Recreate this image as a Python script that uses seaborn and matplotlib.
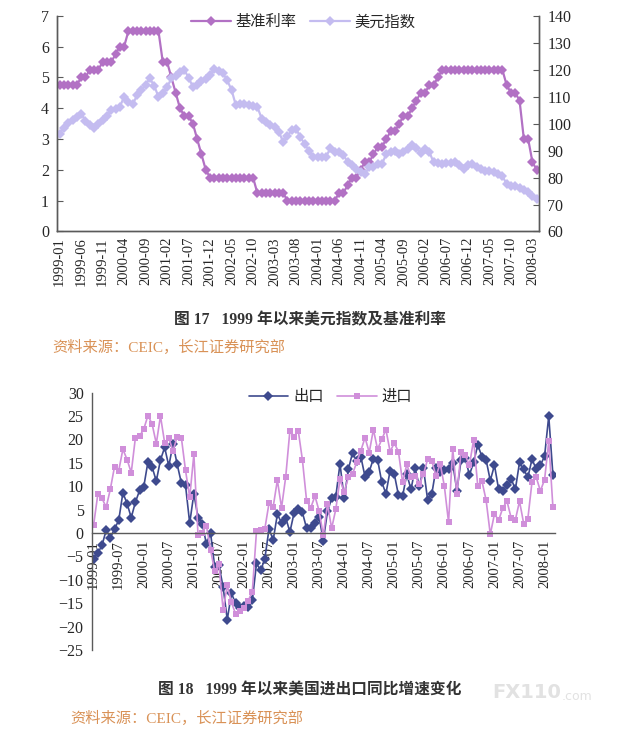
import numpy as np
import pandas as pd
import matplotlib
matplotlib.use("Agg")
import matplotlib.pyplot as plt
import seaborn as sns
from matplotlib.lines import Line2D

# ---- Fig 17: monthly, 1999-01 .. 2008-04 ----
fed_rate = [
    4.75, 4.75, 4.75, 4.75, 4.75, 5.00, 5.00, 5.25, 5.25, 5.25, 5.50, 5.50,  # 1999
    5.50, 5.75, 6.00, 6.00, 6.50, 6.50, 6.50, 6.50, 6.50, 6.50, 6.50, 6.50,  # 2000
    5.50, 5.50, 5.00, 4.50, 4.00, 3.75, 3.75, 3.50, 3.00, 2.50, 2.00, 1.75,  # 2001
    1.75, 1.75, 1.75, 1.75, 1.75, 1.75, 1.75, 1.75, 1.75, 1.75, 1.25, 1.25,  # 2002
    1.25, 1.25, 1.25, 1.25, 1.25, 1.00, 1.00, 1.00, 1.00, 1.00, 1.00, 1.00,  # 2003
    1.00, 1.00, 1.00, 1.00, 1.00, 1.25, 1.25, 1.50, 1.75, 1.75, 2.00, 2.25,  # 2004
    2.25, 2.50, 2.75, 2.75, 3.00, 3.25, 3.25, 3.50, 3.75, 3.75, 4.00, 4.25,  # 2005
    4.50, 4.50, 4.75, 4.75, 5.00, 5.25, 5.25, 5.25, 5.25, 5.25, 5.25, 5.25,  # 2006
    5.25, 5.25, 5.25, 5.25, 5.25, 5.25, 5.25, 5.25, 4.75, 4.50, 4.50, 4.25,  # 2007
    3.00, 3.00, 2.25, 2.00,                                                  # 2008
]
usd_index = [
    96.3, 98.5, 100.2, 101.5, 102.6, 103.7, 101.0, 99.5, 98.4, 99.8, 101.2, 102.9,
    105.0, 105.5, 106.2, 110.0, 108.0, 107.1, 110.5, 112.5, 114.5, 116.8, 114.0, 110.0,
    111.2, 113.5, 116.8, 117.5, 119.0, 120.0, 117.0, 113.7, 114.5, 115.8, 116.5, 118.0,
    120.3, 119.5, 118.7, 116.0, 112.5, 106.8, 107.4, 107.4, 107.0, 106.5, 106.2, 101.9,
    100.5, 99.5, 98.8, 97.0, 93.2, 95.5, 97.5, 98.1, 95.0, 92.5, 90.0, 87.5,
    87.6, 87.7, 87.8, 90.9, 89.5, 89.4, 88.5, 85.7, 84.5, 83.0, 82.0, 81.3,
    83.8, 84.0, 85.0, 85.0, 88.8, 89.5, 90.0, 88.8, 89.5, 90.6, 92.1, 91.0,
    89.2, 90.6, 89.5, 85.7, 85.3, 85.0, 85.3, 85.5, 85.7, 84.5, 83.2, 84.5,
    85.0, 84.0, 83.0, 82.5, 82.3, 82.1, 81.3, 80.6, 77.6, 77.0, 76.7, 76.3,
    75.3, 74.5, 73.0, 72.0,
]
labels_17 = ["1999-01", "1999-06", "1999-11", "2000-04", "2000-09", "2001-02",
             "2001-07", "2001-12", "2002-05", "2002-10", "2003-03", "2003-08",
             "2004-01", "2004-06", "2004-11", "2005-04", "2005-09", "2006-02",
             "2006-07", "2006-12", "2007-05", "2007-10", "2008-03"]

# ---- Fig 18: monthly yoy %, 1999-01 .. 2008-03 ----
exports = [
    -5.6, -4.3, -2.6, 0.6, -1.0, 0.9, 2.7, 8.6, 6.3, 3.3, 6.6, 9.1,
    9.9, 15.2, 14.1, 11.1, 15.6, 18.3, 14.3, 19.0, 14.7, 10.7, 10.2, 2.1,
    8.4, 3.3, 2.0, -2.3, 0.0, -7.3, -6.9, -11.5, -18.5, -12.9, -15.0, -16.0,
    -15.5, -15.9, -14.4, -6.5, -8.0, -5.5, 0.9, -1.5, 4.0, 2.2, 3.3, 0.2,
    4.3, 5.2, 4.4, 1.0, 1.0, 2.2, 3.4, -1.6, 4.6, 7.4, 7.8, 14.8,
    7.4, 13.6, 17.1, 15.4, 16.3, 12.0, 13.1, 15.9, 15.7, 10.9, 8.4, 13.3,
    12.6, 8.1, 7.9, 12.6, 9.3, 13.8, 10.0, 13.8, 7.0, 8.4, 13.8, 13.1,
    13.4, 13.6, 15.0, 9.0, 15.6, 16.0, 12.4, 15.1, 18.8, 16.3, 15.6, 11.2,
    14.5, 9.3, 9.0, 10.2, 11.6, 9.3, 15.1, 13.6, 11.9, 15.8, 13.6, 14.5,
    16.4, 25.0, 12.4,
]
imports = [
    1.8, 8.3, 7.4, 5.5, 9.4, 14.2, 13.3, 17.9, 15.7, 12.9, 20.4, 20.7,
    22.2, 25.1, 23.3, 19.1, 25.0, 19.3, 20.3, 17.5, 20.6, 20.4, 13.4, 7.6,
    16.8, -0.5, 0.1, 1.6, -3.6, -8.2, -6.7, -16.4, -11.2, -14.8, -17.3, -16.6,
    -16.0, -14.5, -12.5, 0.4, 0.7, 0.9, 6.4, 5.6, 11.3, 5.4, 12.0, 21.9,
    20.6, 21.9, 15.6, 6.9, 5.4, 7.9, 4.7, -0.5, 6.2, 1.0, 5.1, 11.5,
    8.7, 11.9, 12.6, 15.1, 17.6, 20.4, 17.2, 22.1, 17.9, 20.0, 22.1, 17.4,
    19.2, 17.4, 10.8, 14.7, 11.9, 12.2, 10.4, 12.6, 15.8, 15.4, 12.2, 14.8,
    10.0, 2.3, 18.0, 8.3, 17.4, 16.6, 14.5, 19.9, 10.0, 11.1, 7.0, -0.3,
    4.1, 2.7, 5.4, 6.8, 3.2, 2.8, 6.8, 2.0, 3.1, 11.0, 11.9, 9.0,
    11.4, 19.6, 5.5,
]
labels_18 = ["1999-01", "1999-07", "2000-01", "2000-07", "2001-01", "2001-07",
             "2002-01", "2002-07", "2003-01", "2003-07", "2004-01", "2004-07",
             "2005-01", "2005-07", "2006-01", "2006-07", "2007-01", "2007-07",
             "2008-01"]

RATE_C = "#b271c4"
USD_C = "#c4bcf0"
EXP_C = "#3e4a8e"
IMP_C = "#d08fda"
AXIS_C = "#5a5a5a"
SRC_C = "#d99257"

sns.set_style("white")
plt.rcParams["font.family"] = ["Liberation Serif", "Noto Sans CJK SC"]
plt.rcParams["axes.unicode_minus"] = True

fig = plt.figure(figsize=(6.22, 7.37), dpi=100)

# ================= chart 17 =================
df17 = pd.DataFrame({"idx": np.arange(len(fed_rate)), "rate": fed_rate, "usd": usd_index})

ax1 = fig.add_axes([0.0924, 0.6859, 0.774, 0.2927])
sns.lineplot(data=df17, x="idx", y="rate", ax=ax1, color=RATE_C, marker="D",
             markersize=4.8, markeredgewidth=0, linewidth=1.6)
ax2 = ax1.twinx()
sns.lineplot(data=df17, x="idx", y="usd", ax=ax2, color=USD_C, marker="D",
             markersize=4.8, markeredgewidth=0, linewidth=1.6)

ax1.set_xlim(-0.5, len(fed_rate) - 0.5)
ax1.set_ylim(0, 7)
ax1.set_yticks(range(0, 8))
ax2.set_ylim(60, 140)
ax2.set_yticks(range(60, 141, 10))
ax1.set_xticks([k * 5 for k in range(len(labels_17))])
ax1.set_xticklabels(labels_17)
ax1.set_xticks(np.arange(-0.5, len(fed_rate), 1), minor=True)
for a in (ax1, ax2):
    a.set_xlabel("")
    a.set_ylabel("")
    a.spines["top"].set_visible(False)
    for s in a.spines.values():
        s.set_color(AXIS_C)
        s.set_linewidth(1.0)
ax1.tick_params(axis="x", which="major", length=0, rotation=90, labelsize=10.5, pad=4)
ax1.tick_params(axis="x", which="minor", direction="in", length=4, width=0.8, color=AXIS_C)
ax1.tick_params(axis="y", direction="in", length=4, width=0.8, color=AXIS_C, labelsize=11.5, pad=6)
ax2.tick_params(axis="y", direction="in", length=4, width=0.8, color=AXIS_C, labelsize=11.5, pad=6)

h17 = [Line2D([], [], color=RATE_C, marker="D", markersize=4.8, markeredgewidth=0, lw=1.6),
       Line2D([], [], color=USD_C, marker="D", markersize=4.8, markeredgewidth=0, lw=1.6)]
fig.legend(h17, ["基准利率", "美元指数"], loc="center", bbox_to_anchor=(0.488, 0.970),
           ncol=2, frameon=False, fontsize=11, handlelength=2.6, handletextpad=0.3,
           columnspacing=0.9)

fig.text(0.498, 1 - 320 / 737, "图 17   1999 年以来美元指数及基准利率", ha="center",
         va="center", fontsize=11.3, fontweight="bold", color="#333333")
fig.text(52 / 622, 1 - 347 / 737, "资料来源：CEIC，长江证券研究部", ha="left",
         va="center", fontsize=11, color=SRC_C)

# ================= chart 18 =================
df18 = pd.DataFrame({"idx": np.arange(len(exports)), "exp": exports, "imp": imports})

ax3 = fig.add_axes([0.1479, 0.118, 0.7444, 0.3493])
sns.lineplot(data=df18, x="idx", y="exp", ax=ax3, color=EXP_C, marker="D",
             markersize=5.2, markeredgewidth=0, linewidth=1.2)
sns.lineplot(data=df18, x="idx", y="imp", ax=ax3, color=IMP_C, marker="s",
             markersize=5.0, markeredgewidth=0, linewidth=1.2)

ax3.set_xlim(-0.4, len(exports) - 0.5)
ax3.set_ylim(-25, 30)
ax3.set_yticks(range(-25, 31, 5))
ax3.set_xticks([k * 6 for k in range(len(labels_18))])
ax3.set_xticklabels(labels_18)
ax3.set_xlabel("")
ax3.set_ylabel("")
ax3.spines["top"].set_visible(False)
ax3.spines["right"].set_visible(False)
ax3.spines["bottom"].set_position(("data", 0))
for s in ax3.spines.values():
    s.set_color(AXIS_C)
    s.set_linewidth(1.0)
ax3.tick_params(axis="x", direction="in", length=4, width=0.8, color=AXIS_C,
                rotation=90, labelsize=10.5, pad=5)
ax3.tick_params(axis="y", direction="in", length=4, width=0.8, color=AXIS_C,
                labelsize=11.5, pad=6)

h18 = [Line2D([], [], color=EXP_C, marker="D", markersize=5.2, markeredgewidth=0, lw=1.2),
       Line2D([], [], color=IMP_C, marker="s", markersize=5.0, markeredgewidth=0, lw=1.2)]
fig.legend(h18, ["出口", "进口"], loc="center", bbox_to_anchor=(0.531, 1 - 397 / 737),
           ncol=2, frameon=False, fontsize=11, handlelength=2.6, handletextpad=0.3,
           columnspacing=0.9)

fig.text(0.498, 1 - 690 / 737, "图 18   1999 年以来美国进出口同比增速变化", ha="center",
         va="center", fontsize=11.3, fontweight="bold", color="#333333")
fig.text(70 / 622, 1 - 718 / 737, "资料来源：CEIC，长江证券研究部", ha="left",
         va="center", fontsize=11, color=SRC_C)
fig.text(492 / 622, 1 - 692 / 737, "FX110", ha="left", va="center", fontsize=14,
         fontweight="bold", color="#e2e2e2", family="DejaVu Sans")
fig.text(562 / 622, 1 - 696 / 737, ".com", ha="left", va="center", fontsize=9,
         color="#e2e2e2", family="DejaVu Sans")

fig.savefig("out.png", dpi=100)
